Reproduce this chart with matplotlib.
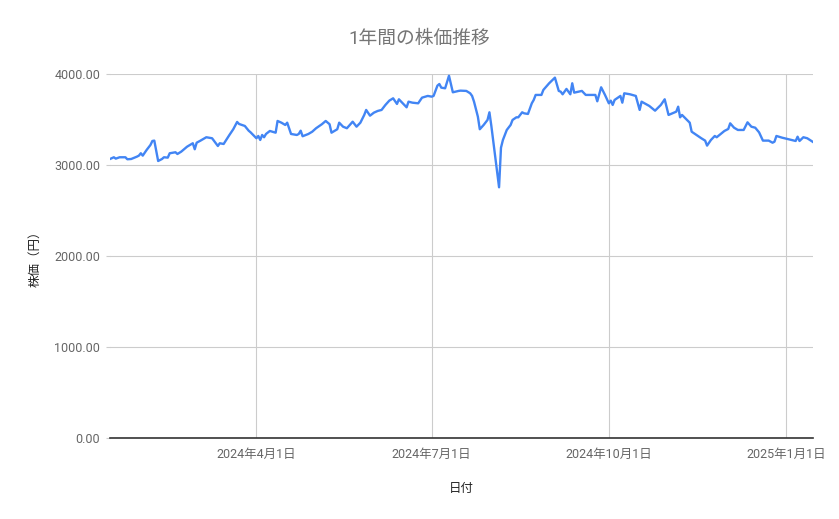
import numpy as np
import pandas as pd
import matplotlib as mpl
import matplotlib.pyplot as plt

mpl.use('Agg')
plt.rcParams['font.family'] = ['Roboto', 'Noto Sans CJK JP', 'DejaVu Sans']

# data (date, closing price in yen)
dates = [
    '2024-01-16', '2024-01-18', '2024-01-19', '2024-01-21', '2024-01-24', '2024-01-25',
    '2024-01-27', '2024-01-30', '2024-01-31', '2024-02-01', '2024-02-02', '2024-02-04',
    '2024-02-06', '2024-02-07', '2024-02-08', '2024-02-10', '2024-02-12', '2024-02-13',
    '2024-02-15', '2024-02-16', '2024-02-19', '2024-02-20', '2024-02-22', '2024-02-25',
    '2024-02-28', '2024-02-29', '2024-03-01', '2024-03-03', '2024-03-06', '2024-03-09',
    '2024-03-12', '2024-03-13', '2024-03-15', '2024-03-18', '2024-03-20', '2024-03-22',
    '2024-03-23', '2024-03-26', '2024-03-28', '2024-03-29', '2024-04-01', '2024-04-02',
    '2024-04-03', '2024-04-04', '2024-04-05', '2024-04-06', '2024-04-08', '2024-04-11',
    '2024-04-12', '2024-04-14', '2024-04-16', '2024-04-17', '2024-04-19', '2024-04-22',
    '2024-04-23', '2024-04-24', '2024-04-25', '2024-04-28', '2024-04-30', '2024-05-02',
    '2024-05-05', '2024-05-07', '2024-05-09', '2024-05-10', '2024-05-13', '2024-05-14',
    '2024-05-16', '2024-05-18', '2024-05-21', '2024-05-23', '2024-05-25', '2024-05-27',
    '2024-05-28', '2024-05-30', '2024-06-01', '2024-06-03', '2024-06-05', '2024-06-07',
    '2024-06-09', '2024-06-11', '2024-06-13', '2024-06-14', '2024-06-18', '2024-06-19',
    '2024-06-21', '2024-06-24', '2024-06-26', '2024-06-29', '2024-07-01', '2024-07-02',
    '2024-07-04', '2024-07-05', '2024-07-06', '2024-07-08', '2024-07-10', '2024-07-12',
    '2024-07-15', '2024-07-16', '2024-07-19', '2024-07-21', '2024-07-22', '2024-07-23',
    '2024-07-25', '2024-07-26', '2024-07-28', '2024-07-30', '2024-07-31', '2024-08-01',
    '2024-08-05', '2024-08-06', '2024-08-07', '2024-08-09', '2024-08-11', '2024-08-12',
    '2024-08-14', '2024-08-15', '2024-08-17', '2024-08-18', '2024-08-20', '2024-08-22',
    '2024-08-23', '2024-08-24', '2024-08-27', '2024-08-28', '2024-08-31', '2024-09-03',
    '2024-09-05', '2024-09-06', '2024-09-07', '2024-09-09', '2024-09-11', '2024-09-12',
    '2024-09-13', '2024-09-17', '2024-09-19', '2024-09-24', '2024-09-25', '2024-09-27',
    '2024-09-29', '2024-10-01', '2024-10-02', '2024-10-03', '2024-10-04', '2024-10-07',
    '2024-10-08', '2024-10-09', '2024-10-12', '2024-10-15', '2024-10-17', '2024-10-18',
    '2024-10-22', '2024-10-25', '2024-10-28', '2024-10-30', '2024-11-01', '2024-11-05',
    '2024-11-06', '2024-11-07', '2024-11-08', '2024-11-12', '2024-11-13', '2024-11-18',
    '2024-11-20', '2024-11-21', '2024-11-23', '2024-11-25', '2024-11-26', '2024-11-30',
    '2024-12-02', '2024-12-03', '2024-12-05', '2024-12-07', '2024-12-10', '2024-12-12',
    '2024-12-14', '2024-12-16', '2024-12-18', '2024-12-20', '2024-12-23', '2024-12-25',
    '2024-12-26', '2024-12-27', '2024-12-30', '2025-01-06', '2025-01-07', '2025-01-08',
    '2025-01-10', '2025-01-12', '2025-01-15',
]
prices = [
    3066, 3085, 3070, 3085, 3085, 3063,
    3066, 3092, 3103, 3129, 3103, 3165,
    3220, 3264, 3268, 3044, 3066, 3085,
    3081, 3129, 3140, 3121, 3147, 3201,
    3239, 3173, 3245, 3268, 3305, 3294,
    3209, 3239, 3231, 3330, 3393, 3473,
    3451, 3429, 3377, 3359, 3294, 3319,
    3275, 3330, 3305, 3341, 3374, 3355,
    3484, 3465, 3440, 3465, 3341, 3330,
    3341, 3377, 3316, 3341, 3366, 3404,
    3448, 3484, 3448, 3355, 3393, 3465,
    3421, 3404, 3476, 3421, 3465, 3550,
    3605, 3542, 3575, 3594, 3605, 3660,
    3707, 3733, 3671, 3722, 3634, 3696,
    3685, 3678, 3740, 3759, 3751, 3759,
    3872, 3890, 3850, 3843, 3981, 3799,
    3814, 3817, 3814, 3788, 3759, 3696,
    3531, 3393, 3440, 3495, 3579, 3429,
    2755, 3190, 3275, 3385, 3440, 3495,
    3524, 3524, 3579, 3568, 3561, 3678,
    3715, 3770, 3770, 3825, 3898, 3960,
    3814, 3806, 3777, 3836, 3777, 3898,
    3795, 3814, 3770, 3770, 3700, 3854,
    3770, 3678, 3707, 3660, 3715, 3759,
    3685, 3788, 3777, 3759, 3605, 3696,
    3649, 3597, 3660, 3722, 3550, 3586,
    3641, 3524, 3550, 3465, 3366, 3294,
    3268, 3213, 3275, 3319, 3305, 3374,
    3396, 3458, 3410, 3385, 3385, 3469,
    3421, 3410, 3359, 3268, 3268, 3245,
    3256, 3319, 3300, 3264, 3311, 3264,
    3305, 3294, 3253,
]
x_ticks = ['2024-04-01', '2024-07-01', '2024-10-01', '2025-01-01']
y_ticks = [0, 1000, 2000, 3000, 4000]

title = '1年間の株価推移'
x_label = '日付'
y_label = '株価（円）'

x = pd.to_datetime(dates)
y = np.array(prices)
tick_dates = pd.to_datetime(x_ticks)

fig = plt.figure(figsize=(8.39, 5.19), dpi=100)
ax = fig.add_axes([110 / 839, 1 - 438 / 519, 703 / 839, 364 / 519])

# line
ax.plot(x, y, color='#4285F4', linewidth=1.7, solid_joinstyle='round', zorder=3)

# axes
ax.set_xlim(x[0], x[-1])
ax.set_ylim(0, 4000)
ax.set_xticks(tick_dates)
ax.set_xticklabels(['{}年{}月{}日'.format(d.year, d.month, d.day) for d in tick_dates])
ax.set_yticks(y_ticks)
ax.yaxis.set_major_formatter(mpl.ticker.FormatStrFormatter('%.2f'))

for side in ['top', 'right', 'left']:
    ax.spines[side].set_visible(False)
ax.spines['bottom'].set_color('#333333')
ax.spines['bottom'].set_linewidth(1.2)
ax.spines['bottom'].set_zorder(4)

ax.tick_params(axis='y', length=3, color='#cccccc', labelcolor='#666666', labelsize=9, pad=4)
ax.tick_params(axis='x', length=0, labelcolor='#666666', labelsize=9, pad=7)

# grid
ax.grid(True, color='#cccccc', linewidth=0.8)
ax.set_axisbelow(True)

# text
fig.text(0.5, 1 - 39 / 519, title, ha='center', va='center',
         fontsize=13.5, color='#757575')
ax.set_xlabel(x_label, fontsize=9, color='#222222', labelpad=15)
ax.set_ylabel(y_label, fontsize=9, color='#222222', labelpad=9)

fig.savefig('out.png', dpi=100)
